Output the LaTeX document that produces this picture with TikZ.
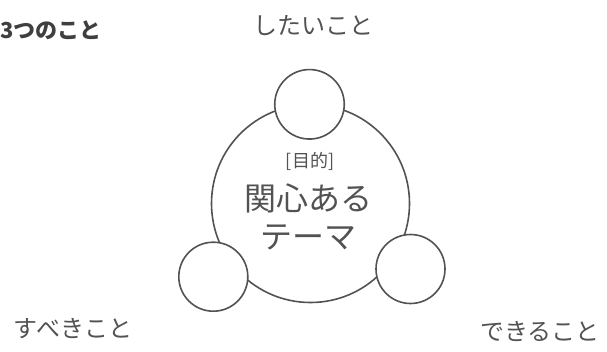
\documentclass[tikz,border=0pt]{standalone}
\usepackage{fontspec}
\setmainfont{Noto Sans CJK JP}
\definecolor{ink}{HTML}{525252}
\definecolor{darkink}{HTML}{3F3F3F}
\tikzset{
  ring/.style={circle, draw=ink, line width=1.6pt, fill=white, inner sep=0pt},
  label24/.style={inner sep=0pt, text=ink, font=\fontsize{24}{28}\selectfont},
  centertext/.style={inner sep=0pt, text=ink, font=\fontsize{32}{36}\selectfont},
}
\begin{document}
\begin{tikzpicture}[x=1pt,y=-1pt]
\useasboundingbox (0,0) rectangle (607,351);
\node[ring, minimum size=198pt] (big) at (310.5,203.5) {};
\node[ring, minimum size=69.5pt] (top) at (309.5,104.3) {};
\node[ring, minimum size=69pt] (bl) at (213.3,276.7) {};
\node[ring, minimum size=69pt] (br) at (410.5,269) {};
\node[inner sep=0pt, text=ink, font=\fontsize{18}{20}\selectfont] (purpose) at (310,161) {[目的]};
\node[centertext] (theme1) at (308,198) {関心ある};
\node[centertext] (theme2) at (308,237) {テーマ};
\node[label24] (want) at (313,26) {したいこと};
\node[label24] (should) at (73,329) {すべきこと};
\node[label24] (can) at (540,331) {できること};
\node[inner sep=0pt, anchor=west, text=darkink, font=\fontsize{22}{24}\selectfont\bfseries] (three) at (0,30) {3つのこと};
\end{tikzpicture}
\end{document}
